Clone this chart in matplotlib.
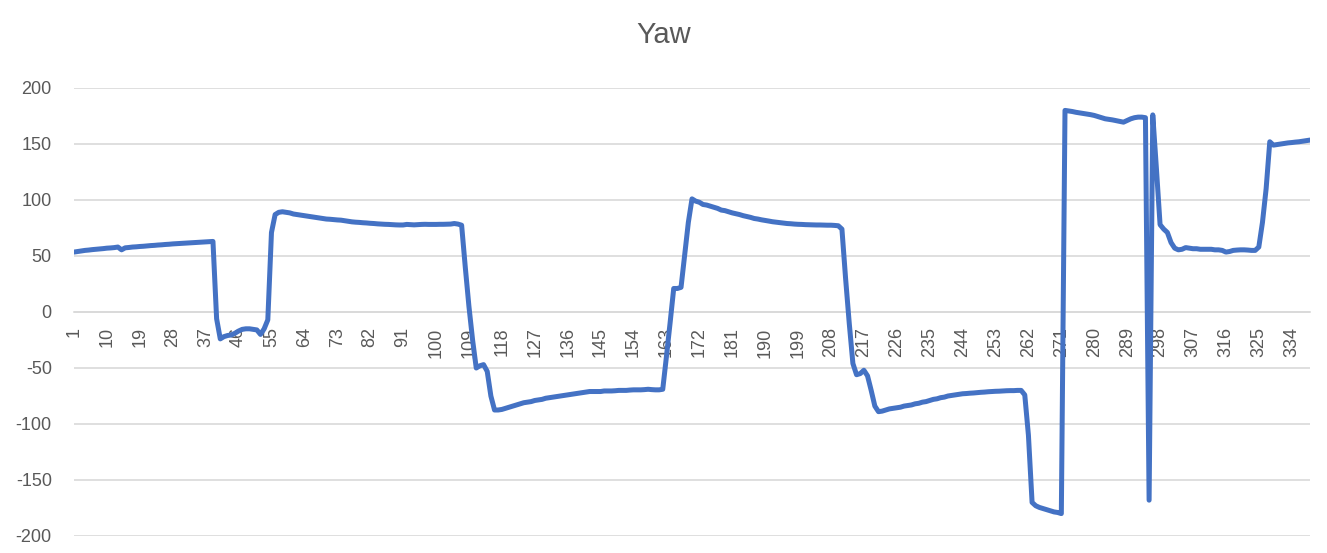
import matplotlib.pyplot as plt

# yaw reading per sample
yaw = [
    53.5, 54, 54.5, 55, 55.3, 55.7, 56, 56.3, 56.6, 57,
    57.2, 57.5, 58, 55.5, 57.3, 57.6, 58, 58.2, 58.5, 58.7,
    59, 59.3, 59.5, 59.8, 60, 60.3, 60.5, 60.8, 61, 61.2,
    61.4, 61.6, 61.8, 62, 62.2, 62.4, 62.6, 62.8, 63, -6,
    -24, -22, -21, -20.5, -19, -17, -15.5, -15, -15, -15.5,
    -16, -20, -15, -7, 71, 87, 89, 89.5, 89, 88.5,
    87.5, 87, 86.5, 86, 85.5, 85, 84.5, 84, 83.5, 83,
    82.8, 82.5, 82.2, 82, 81.5, 81, 80.5, 80.2, 80, 79.7,
    79.5, 79.2, 79, 78.7, 78.5, 78.3, 78.2, 78, 77.8, 77.7,
    77.7, 78.2, 78, 77.8, 78, 78.2, 78.3, 78.2, 78.2, 78.2,
    78.3, 78.3, 78.4, 78.5, 79, 78.5, 77.5, 40, 5, -25,
    -50, -48, -47, -53, -75, -87.5, -87.5, -87, -86, -85,
    -84, -83, -82, -81, -80.5, -80, -79, -78.5, -78, -77,
    -76.5, -76, -75.5, -75, -74.5, -74, -73.5, -73, -72.5, -72,
    -71.5, -71, -71, -71, -71, -70.5, -70.5, -70.5, -70.3, -70,
    -70, -70, -69.7, -69.5, -69.5, -69.5, -69.3, -69, -69.3, -69.5,
    -69.5, -69, -40, -10, 21, 21, 22, 51, 80, 101,
    99, 98, 96, 95.5, 94.5, 93.5, 92.5, 91, 90.5, 89.5,
    88.5, 87.8, 87, 86, 85.3, 84.5, 83.5, 83, 82.3, 81.8,
    81.2, 80.6, 80.2, 79.8, 79.4, 79, 78.8, 78.5, 78.3, 78.2,
    78, 77.9, 77.8, 77.7, 77.7, 77.6, 77.5, 77.5, 77.3, 77,
    74, 30, -10, -46, -56, -55, -52, -57, -70, -84,
    -89, -88.5, -87.5, -86.5, -86, -85.5, -85, -84, -83.5, -83,
    -82, -81.5, -80.5, -80, -79, -78, -77.5, -76.5, -76, -75,
    -74.5, -74, -73.5, -73, -72.8, -72.5, -72.3, -72, -71.7, -71.5,
    -71.2, -71, -70.8, -70.7, -70.5, -70.3, -70.2, -70.2, -70, -70,
    -74, -110, -170, -173, -174.5, -175.5, -176.5, -177.5, -178.5, -179,
    -180, 180, 179.5, 179, 178.3, 177.8, 177.3, 176.8, 176.2, 175.5,
    174.5, 173.5, 172.5, 172, 171.5, 170.8, 170, 169.5, 171, 172.5,
    173.5, 174, 174, 173.5, -168, 176, 128, 78, 74, 71,
    62, 57, 55.5, 56, 57.5, 57, 56.5, 56.5, 56, 56,
    56, 56, 55.5, 55.5, 55, 53.5, 54, 55, 55.3, 55.5,
    55.5, 55.3, 55, 55, 58, 80, 110, 152, 149, 149.5,
    150, 150.5, 151, 151.3, 151.7, 152, 152.5, 153, 153.5,
]
samples = list(range(1, len(yaw) + 1))
x_ticks = samples[::9]
y_ticks = [-200, -150, -100, -50, 0, 50, 100, 150, 200]

plt.rcParams['font.family'] = ['Liberation Sans', 'DejaVu Sans']
plt.rcParams['axes.unicode_minus'] = False
text_grey = '#595959'
grid_grey = '#D9D9D9'

W, H = 1327, 553
fig = plt.figure(figsize=(W / 100, H / 100), dpi=100)
ax = fig.add_axes([74 / W, 1 - 536 / H, (1310 - 74) / W, (536 - 88) / H])

ax.plot(samples, yaw, color='#4472C4', linewidth=3.6,
        solid_joinstyle='round', solid_capstyle='round', zorder=3)

ax.set_xlim(1, len(yaw))
ax.set_ylim(-200, 200)
ax.set_yticks(y_ticks)
ax.yaxis.grid(True, color=grid_grey, linewidth=1.2)
ax.set_axisbelow(True)

# category labels sit on the zero line, like Excel
ax.spines['bottom'].set_position(('data', 0))
ax.spines['bottom'].set_color(grid_grey)
ax.spines['bottom'].set_linewidth(1.2)
for side in ['top', 'right', 'left']:
    ax.spines[side].set_visible(False)

ax.set_xticks(x_ticks)
ax.set_xticklabels([str(v) for v in x_ticks], rotation=90)
ax.tick_params(axis='x', length=0, pad=11, labelsize=13, labelcolor=text_grey)
ax.tick_params(axis='y', length=0, pad=16, labelsize=13, labelcolor=text_grey)

fig.text(0.5, 1 - 35 / H, 'Yaw', ha='center', va='center', fontsize=21, color=text_grey)

fig.savefig('out.png', dpi=100)
